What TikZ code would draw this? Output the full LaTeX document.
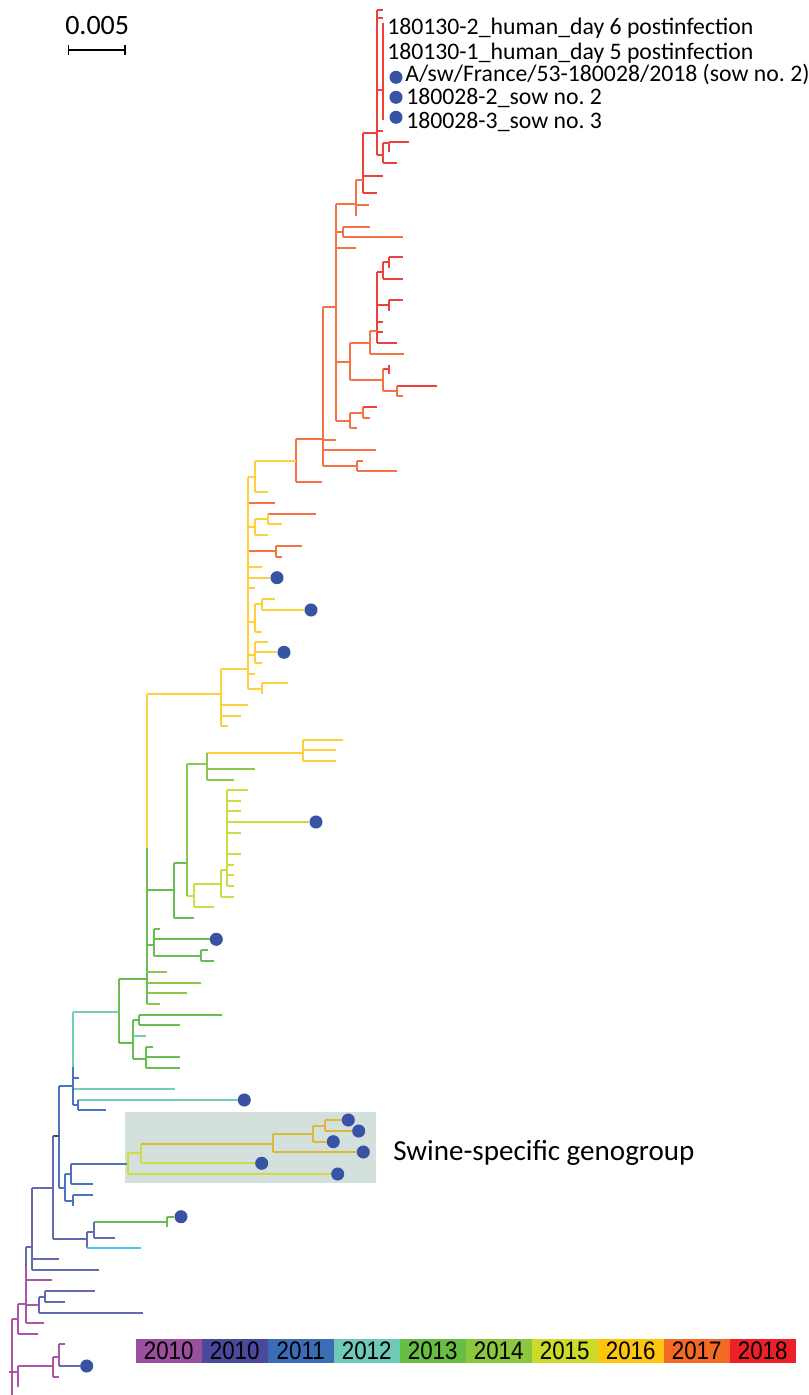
\documentclass[tikz,border=0pt]{standalone}
\usepackage{fontspec}
\setmainfont{Carlito}
\newfontfamily\legendfont{Liberation Sans}[FakeStretch=0.88]
\usepackage{xcolor}
\usepackage{tikz}
\usetikzlibrary{positioning}

% branch colours (one per year)
\definecolor{c18}{RGB}{239,65,60}
\definecolor{c17}{RGB}{243,115,70}
\definecolor{c16}{RGB}{253,208,60}
\definecolor{c15}{RGB}{205,220,70}
\definecolor{c14}{RGB}{140,198,75}
\definecolor{c13}{RGB}{105,188,80}
\definecolor{c12}{RGB}{115,205,190}
\definecolor{c11}{RGB}{75,115,190}
\definecolor{c10b}{RGB}{100,105,180}
\definecolor{c10a}{RGB}{170,85,170}
\definecolor{cgold}{RGB}{215,185,60}
\definecolor{ccyan}{RGB}{70,200,240}
% legend colours
\definecolor{l10a}{RGB}{154,79,159}
\definecolor{l10b}{RGB}{74,74,156}
\definecolor{l11}{RGB}{61,108,182}
\definecolor{l12}{RGB}{111,201,183}
\definecolor{l13}{RGB}{104,189,69}
\definecolor{l14}{RGB}{140,198,63}
\definecolor{l15}{RGB}{203,219,42}
\definecolor{l16}{RGB}{254,197,15}
\definecolor{l17}{RGB}{242,106,36}
\definecolor{l18}{RGB}{238,32,39}
\definecolor{dotblue}{RGB}{57,83,164}
\definecolor{boxfill}{RGB}{212,224,220}

\begin{document}
\begin{tikzpicture}[x=0.75pt,y=0.75pt,yscale=-1,xscale=1,
  branch/.style={line width=1.4pt},
  leafdot/.style={circle,fill=dotblue,inner sep=0pt,minimum size=9.8pt},
  lab/.style={anchor=base west,inner sep=0pt,font=\fontsize{17.8pt}{21pt}\selectfont},
  legcell/.style={minimum width=49.6pt,minimum height=18.2pt,inner sep=0pt,
    font=\legendfont\fontsize{19pt}{20pt}\selectfont}]
\useasboundingbox (0,0) rectangle (809,1395);

%Shape: swine box
\fill[boxfill] (125,1112.3) rectangle (376,1182.7);

% leaf dots
\node[leafdot] (dA) at (396,77.3) {};
\node[leafdot] (dB) at (396,97.3) {};
\node[leafdot] (dC) at (396,117.3) {};
\node[leafdot] (dY1) at (277,577.7) {};
\node[leafdot] (dY2) at (311,610) {};
\node[leafdot] (dY3) at (284,652.3) {};
\node[leafdot] (dG1) at (316,822) {};
\node[leafdot] (dG2) at (216.3,939.3) {};
\node[leafdot] (dT1) at (244.3,1100) {};
\node[leafdot] (dS1) at (348.3,1120) {};
\node[leafdot] (dS2) at (358.7,1131) {};
\node[leafdot] (dS3) at (333.3,1141.7) {};
\node[leafdot] (dS4) at (363.3,1152) {};
\node[leafdot] (dS5) at (261.7,1163.3) {};
\node[leafdot] (dS6) at (337.7,1174) {};
\node[leafdot] (dB1) at (181,1216.7) {};
\node[leafdot] (dP1) at (86.7,1366) {};

% 2018 clade
\draw[branch,c18] (376.7,10) -- (376.7,155)
  (376.7,10) -- (382.7,10)
  (376.7,18.3) -- (382.7,18.3)
  (376.7,90) -- (382.7,90)
  (382.7,23.3) -- (382.7,120)
  (376.7,130.7) -- (382.7,130.7)
  (376.7,155) -- (382.7,155)
  (382.7,143.3) -- (382.7,163.3)
  (382.7,143.3) -- (389.3,143.3)
  (389.3,141.7) -- (389.3,151.7)
  (389.3,141.7) -- (409.3,141.7)
  (382.7,163.3) -- (396.7,163.3)
  (362.7,133.3) -- (362.7,192.7)
  (362.7,133.3) -- (376.7,133.3)
  (362.7,175.7) -- (382.7,175.7)
  (362.7,192.7) -- (376.7,192.7)
  (376.7,271.7) -- (376.7,342.7)
  (376.7,271.7) -- (383.3,271.7)
  (383.3,262.3) -- (383.3,279)
  (383.3,262.3) -- (389.3,262.3)
  (389.3,257.3) -- (389.3,267.7)
  (389.3,257.3) -- (403.3,257.3)
  (383.3,279) -- (403.3,279)
  (376.7,305) -- (389.3,305)
  (389.3,300) -- (389.3,310.7)
  (389.3,300) -- (403.3,300)
  (376.7,321.7) -- (383.3,321.7)
  (376.7,332.3) -- (383.3,332.3)
  (376.7,342.7) -- (396.7,342.7)
  (383.3,369.3) -- (389.3,369.3)
  (389.3,365) -- (389.3,374)
  (396.7,385.7) -- (437.3,385.7)
  (363.3,406.7) -- (376.7,406.7);
% 2017 clade
\draw[branch,c17] (356,180) -- (356,215.7)
  (356,180) -- (362.7,180)
  (356,205) -- (369.3,205)
  (336,204.3) -- (336,421)
  (336,204.3) -- (356,204.3)
  (336,231.7) -- (342.7,231.7)
  (342.7,226.7) -- (342.7,237.3)
  (342.7,226.7) -- (370,226.7)
  (342.7,237.3) -- (403.3,237.3)
  (336,247.7) -- (356,247.7)
  (336,362.3) -- (350,362.3)
  (350,342.7) -- (350,380)
  (350,342.7) -- (370,342.7)
  (370,331) -- (370,354)
  (370,331) -- (376.7,331)
  (370,354) -- (404,354)
  (350,380) -- (383.3,380)
  (383.3,369.3) -- (383.3,390.7)
  (383.3,390.7) -- (396.7,390.7)
  (396.7,385.7) -- (396.7,396)
  (396.7,396) -- (403.3,396)
  (336,421) -- (350,421)
  (350,412.7) -- (350,428.3)
  (350,412.7) -- (363.3,412.7)
  (363.3,406.7) -- (363.3,417.7)
  (363.3,417.7) -- (370,417.7)
  (350,428.3) -- (356.7,428.3)
  (322.7,306.7) -- (322.7,465.7)
  (322.7,306.7) -- (336,306.7)
  (322.7,440) -- (336,440)
  (322.7,450) -- (376,450)
  (322.7,465.7) -- (356.7,465.7)
  (356.7,460.7) -- (356.7,471)
  (356.7,460.7) -- (362.7,460.7)
  (356.7,471) -- (396.7,471)
  (296,438.7) -- (296,481.7)
  (296,438.7) -- (322.7,438.7)
  (296,481.7) -- (322.3,481.7)
  (247.7,503.3) -- (275,503.3)
  (267.7,514) -- (315.7,514)
  (247.7,551) -- (275.7,551)
  (275.7,546) -- (275.7,556.7)
  (275.7,546) -- (301.7,546)
  (275.7,556.7) -- (281.7,556.7);
% 2016 clade
\draw[branch,c16] (255,460.7) -- (296,460.7)
  (255,460.7) -- (255,492.3)
  (255,492.3) -- (267.7,492.3)
  (247.7,476.7) -- (255,476.7)
  (247.7,476.7) -- (247.7,689.3)
  (247.7,526.7) -- (255,526.7)
  (255,519.3) -- (255,535.3)
  (255,519.3) -- (267.7,519.3)
  (267.7,514) -- (267.7,524.3)
  (267.7,524.3) -- (281.7,524.3)
  (255,535.3) -- (267.7,535.3)
  (247.7,567.3) -- (261.7,567.3)
  (247.7,588.3) -- (255,588.3)
  (247.7,621.7) -- (255,621.7)
  (255,604.3) -- (255,631.7)
  (255,604.3) -- (261.7,604.3)
  (261.7,599.3) -- (261.7,610)
  (261.7,599.3) -- (275,599.3)
  (255,631.7) -- (261.7,631.7)
  (247.7,655) -- (255,655)
  (255,641.7) -- (255,663.3)
  (255,641.7) -- (267.7,641.7)
  (255,663.3) -- (261.7,663.3)
  (247.7,674.3) -- (255,674.3)
  (247.7,689.3) -- (261.7,689.3)
  (261.7,683.3) -- (261.7,694)
  (261.7,683.3) -- (287.7,683.3)
  (221,669.3) -- (247.7,669.3)
  (221,669.3) -- (221,726)
  (221,705) -- (247.7,705)
  (221,715.7) -- (241,715.7)
  (221,726) -- (228.3,726)
  (147.3,694.3) -- (221,694.3)
  (147.3,694.3) -- (147.3,847.7)
  (207.3,752.7) -- (303.3,752.7)
  (303.3,740) -- (303.3,761)
  (303.3,740) -- (343.3,740)
  (303.3,750.3) -- (336,750.3)
  (303.3,761) -- (336,761);
\draw[branch,c16] (247.7,577.7) -- (dY1) (261.7,610) -- (dY2) (255,652.3) -- (dY3);
% 2015 clade
\draw[branch,c15] (186.7,895.7) -- (194.3,895.7)
  (194.3,884) -- (194.3,907.3)
  (194.3,884) -- (221,884)
  (194.3,907.3) -- (214.3,907.3)
  (221,870) -- (221,896.7)
  (221,870) -- (227.3,870)
  (221,896.7) -- (234.3,896.7)
  (227.3,790) -- (227.3,886)
  (227.3,790) -- (247.7,790)
  (227.3,800.7) -- (241,800.7)
  (227.3,811.3) -- (241,811.3)
  (227.3,832.7) -- (241,832.7)
  (227.3,854) -- (241,854)
  (227.3,864.7) -- (234.3,864.7)
  (227.3,875.3) -- (234.3,875.3)
  (227.3,886) -- (234.3,886)
  (227.3,822) -- (dG1);
% 2013/2014 clade
\draw[branch,c13] (147.3,847.7) -- (147.3,1004)
  (147.3,890) -- (174.3,890)
  (174.3,863.3) -- (174.3,917.7)
  (174.3,863.3) -- (186.7,863.3)
  (174.3,917.7) -- (194,917.7)
  (147.3,945) -- (154,945)
  (154,928.7) -- (154,955.7)
  (154,928.7) -- (160,928.7)
  (154,955.7) -- (201,955.7)
  (201,950) -- (201,960.7)
  (201,950) -- (207.7,950)
  (201,960.7) -- (214.3,960.7)
  (119.3,979.3) -- (147.3,979.3)
  (119.3,979.3) -- (119.3,1043.3)
  (119.3,1043.3) -- (133.3,1043.3)
  (133.3,1020) -- (133.3,1059.3)
  (133.3,1020) -- (138.7,1020)
  (138.7,1014.7) -- (138.7,1025.3)
  (138.7,1014.7) -- (222,1014.7)
  (138.7,1025.3) -- (180.3,1025.3)
  (133.3,1059.3) -- (146,1059.3)
  (146,1046.7) -- (146,1068)
  (146,1046.7) -- (152.7,1046.7)
  (146,1057.3) -- (180.3,1057.3)
  (146,1068) -- (180.3,1068)
  (154,939.3) -- (dG2)
  (94.3,1221.7) -- (167.3,1221.7)
  (167.3,1216.7) -- (167.3,1226.7)
  (167.3,1216.7) -- (dB1);
\draw[branch,c14] (186.7,764) -- (186.7,895.7)
  (186.7,764) -- (207.3,764)
  (207.3,752.7) -- (207.3,780)
  (207.3,769.3) -- (255,769.3)
  (207.3,780) -- (234.3,780)
  (147.3,971.7) -- (166.7,971.7)
  (147.3,982.7) -- (200.7,982.7)
  (147.3,993.3) -- (186.7,993.3)
  (147.3,1004) -- (160,1004);
% 2012 clade
\draw[branch,c12] (133.3,1035.7) -- (146,1035.7)
  (72.7,1011.7) -- (119.3,1011.7)
  (72.7,1011.7) -- (72.7,1066.7)
  (72.7,1089.3) -- (175,1089.3)
  (78,1100) -- (dT1);
% 2011 clade
\draw[branch,c11] (72.7,1066.7) -- (72.7,1105)
  (72.7,1078.3) -- (78.7,1078.3)
  (72.7,1105) -- (78,1105)
  (78,1100) -- (78,1110)
  (78,1110) -- (105.7,1110)
  (58.7,1086) -- (72.7,1086)
  (58.7,1086) -- (58.7,1188.3)
  (58.7,1188.3) -- (65.3,1188.3)
  (65.3,1174.3) -- (65.3,1200.7)
  (65.3,1174.3) -- (71,1174.3)
  (71,1164.3) -- (71,1184.3)
  (71,1164.3) -- (128.3,1164.3)
  (71,1184.3) -- (92.7,1184.3)
  (65.3,1200.7) -- (72.7,1200.7)
  (72.7,1195) -- (72.7,1205.7)
  (72.7,1195) -- (92.7,1195);
\draw[branch,black!70] (52.7,1136) -- (58.7,1136);
% swine-specific genogroup
\draw[branch,c15] (128.3,1153.3) -- (128.3,1174)
  (128.3,1153.3) -- (141,1153.3)
  (141,1144.3) -- (141,1163.3)
  (141,1163.3) -- (dS5)
  (128.3,1174) -- (dS6);
\draw[branch,cgold] (141,1144.3) -- (272.7,1144.3)
  (272.7,1134.3) -- (272.7,1152)
  (272.7,1134.3) -- (312.7,1134.3)
  (312.7,1126) -- (312.7,1141.7)
  (312.7,1126) -- (325.3,1126)
  (325.3,1120) -- (325.3,1131)
  (325.3,1120) -- (dS1)
  (325.3,1131) -- (dS2)
  (312.7,1141.7) -- (dS3)
  (272.7,1152) -- (dS4);
% 2010 clades
\draw[branch,c10b] (52.7,1136) -- (52.7,1239)
  (32,1187.7) -- (52.7,1187.7)
  (52.7,1239) -- (87.3,1239)
  (87.3,1231.7) -- (87.3,1248.3)
  (87.3,1231.7) -- (94.3,1231.7)
  (94.3,1221.7) -- (94.3,1238.3)
  (94.3,1237.7) -- (115,1237.7)
  (32,1187.7) -- (32,1270)
  (32,1259) -- (58.7,1259)
  (32,1270) -- (99.3,1270)
  (25.7,1246.7) -- (32,1246.7)
  (25.7,1246.7) -- (25.7,1266.7)
  (39.3,1296.7) -- (39.3,1312.7)
  (39.3,1296.7) -- (45.3,1296.7)
  (45.3,1291) -- (45.3,1301.7)
  (45.3,1291) -- (95,1291)
  (45.3,1301.7) -- (65,1301.7)
  (39.3,1312.7) -- (142.7,1312.7)
  (58.7,1366) -- (dP1);
\draw[branch,ccyan] (87.3,1248.3) -- (140.7,1248.3);
\draw[branch,c10a] (25.7,1266.7) -- (25.7,1322.7)
  (25.7,1280) -- (52.3,1280)
  (25.7,1305) -- (39.3,1305)
  (25.7,1322.7) -- (44.3,1322.7)
  (18.3,1304) -- (25.7,1304)
  (18.3,1304) -- (18.3,1334)
  (18.3,1334) -- (38.3,1334)
  (12.3,1319.3) -- (18.3,1319.3)
  (12.3,1319.3) -- (12.3,1395)
  (9.3,1371.7) -- (18.3,1371.7)
  (18.3,1366) -- (18.3,1386.7)
  (18.3,1366) -- (52.7,1366)
  (52.7,1356.7) -- (52.7,1376.7)
  (52.7,1356.7) -- (58.7,1356.7)
  (58.7,1344.3) -- (58.7,1366)
  (58.7,1344.3) -- (65,1344.3)
  (52.7,1376.7) -- (58.7,1376.7);

% Text Node
\node[lab] (l1) at (387,35) {180130-2\_human\_day 6 postinfection};
\node[lab] (l2) at (387,59.3) {180130-1\_human\_day 5 postinfection};
\node[lab] (l3) at (405,81.7) {A/sw/France/53-180028/2018 (sow no.\ 2)};
\node[lab] (l4) at (406,104) {180028-2\_sow no.\ 2};
\node[lab] (l5) at (406,128.3) {180028-3\_sow no.\ 3};
\node[lab,font=\fontsize{21.8pt}{25pt}\selectfont] (swine) at (393,1160) {Swine-specific genogroup};

% scale bar
\node[lab,font=\fontsize{21pt}{24pt}\selectfont] (scl) at (65,35) {0.005};
\coordinate (sbl) at (68.3,50);
\coordinate (sbr) at (125,50);
\draw[line width=1.2pt] (sbl) -- (sbr);
\draw[line width=0.9pt] ([yshift=3.5]sbl) -- ([yshift=-3.5]sbl) ([yshift=3.5]sbr) -- ([yshift=-3.5]sbr);

% year legend
\foreach \c/\t [count=\i from 0] in {l10a/2010,l10b/2010,l11/2011,l12/2012,l13/2013,l14/2014,l15/2015,l16/2016,l17/2017,l18/2018}
  \node[legcell,fill=\c] (leg\i) at ({168.7+66*\i},1351) {\t};

\end{tikzpicture}
\end{document}
